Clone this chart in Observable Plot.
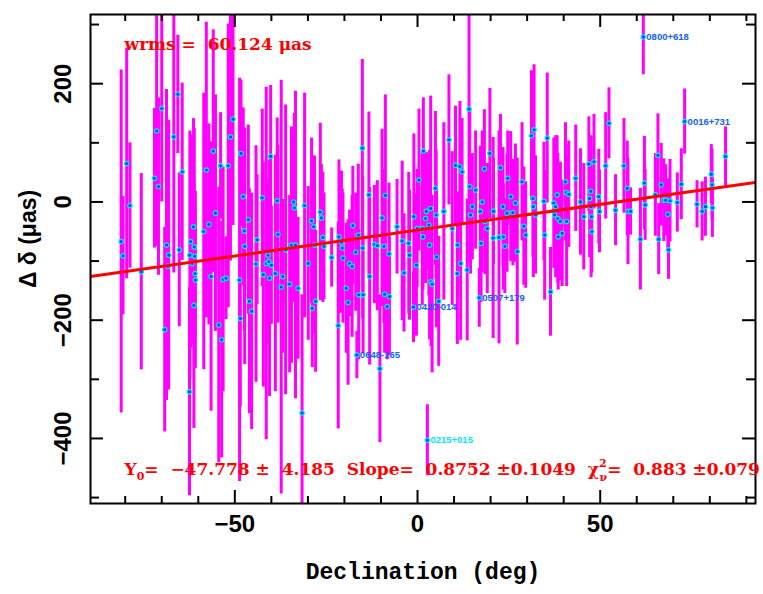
<!DOCTYPE html>
<html><head><meta charset="utf-8">
<script src="https://cdn.jsdelivr.net/npm/d3@7"></script>
<script src="https://cdn.jsdelivr.net/npm/@observablehq/plot@0.6"></script>
<style>
html,body{margin:0;padding:0;background:#fff;overflow:hidden;}
svg text{white-space:pre;}
</style></head><body><div id="chart"></div>
<script>
// Declination (deg)
const dec = [
 -81.1,-80.6,-79.6,-78.7,-75.6,-72.0,-71.4,-70.9,-70.0,-69.2,-68.7,-68.1,-68.3,-66.7,-65.6,-65.2,-64.4,-62.4,-62.3,-62.1,-61.7,-61.3,-61.1,-61.0,-60.9,-60.8,-61.2,-58.5,-57.8,-57.1,-56.5,-55.9,-55.3,-54.4,-53.9,-53.6,-53.2,
 -52.4,-51.8,-51.2,-50.5,-48.7,-48.5,-48.3,-47.7,-47.4,-47.3,-46.3,-46.0,-45.4,-44.2,-43.9,-42.5,-42.2,-41.4,-40.9,-40.7,-40.5,-40.2,-40.0,-38.9,-38.4,-38.2,-37.3,-36.9,-36.1,-35.0,-34.5,-33.9,-33.7,-33.4,-32.7,-31.6,-30.9,-29.9,-29.0,-28.8,-28.4,-28.2,-27.9,-26.6,-26.3,-25.9,-25.6,-23.5,-21.7,-21.5,-20.8,-20.6,-20.4,-19.5,-19.0,-18.6,-17.9,-17.7,-16.9,-16.6,-16.2,-16.1,
 -15.1,-15.0,-14.9,-13.3,-13.1,-11.8,-11.0,-10.3,-9.7,-9.2,-9.0,-8.8,-8.3,-7.8,-7.7,-5.6,-4.2,-3.7,-2.4,-2.2,-1.1,-1.0,-0.3,-0.1,0.4,1.3,1.5,1.6,2.2,2.4,2.7,3.1,3.3,3.6,3.7,4.0,4.9,5.1,5.2,5.8,7.2,8.6,9.5,10.4,10.9,11.0,11.6,11.8,12.2,13.6,14.1,14.3,14.5,15.0,15.9,16.9,17.2,17.4,17.7,18.3,18.5,19.1,19.8,20.7,20.8,
 22.3,22.7,23.4,23.5,23.9,24.5,24.7,25.5,26.1,26.8,27.3,28.6,29.1,29.6,31.2,31.6,31.7,31.9,32.3,34.6,34.8,35.5,36.4,37.3,37.5,37.8,38.2,38.4,38.5,39.1,39.6,40.5,40.7,40.8,41.4,43.3,44.6,45.5,46.9,47.1,47.4,47.5,47.6,47.7,48.3,49.6,49.8,51.5,52.4,54.2,56.5,57.4,57.6,
 58.3,61.0,61.8,62.1,62.3,65.1,65.8,66.0,66.7,67.4,67.9,68.5,68.7,69.1,71.1,72.2,73.1,76.5,77.9,78.8,80.4,80.6,80.7,84.3
];
// Delta delta (micro-arcsec)
const dDelta = [
 -67,-91,65,-6,-118,40,120,26,158,-216,-73,-90,-109,110,182,-81,51,-321,-90,-67,-104,-42,-76,-92,-121,-132,-175,-50,54,-38,-126,86,-19,-208,61,-233,-131,
 -129,61,110,140,-132,-197,82,9,-49,-75,-30,-168,-185,-105,-64,7,-123,-104,-90,-101,-129,77,-107,-121,2,-55,-144,-126,-81,-139,-73,0,-10,-73,-146,-357,-6,-104,-32,-180,-42,-73,-168,-17,-27,-60,-75,-94,-209,-59,-68,-78,-95,-146,-170,-104,-109,-40,-85,-259,-56,-157,
 91,-78,-157,12,-126,-72,-74,-282,-27,-75,-156,11,-177,-88,-160,-42,-66,-120,-70,-90,-178,-25,-107,-45,37,-45,-59,86,-28,-16,-403,-39,-73,-11,-135,-139,23,-22,-93,-168,-16,105,-45,62,-121,-73,60,-104,51,-115,157,26,-22,-8,20,-162,-16,-70,0,56,-33,-45,82,-61,-16,
 -60,58,-8,-59,-75,-19,40,9,-18,-2,-84,34,-41,-56,112,6,-8,122,-22,1,-56,108,-152,-2,-22,-8,12,-28,-59,-33,-53,34,16,-33,13,40,0,-25,64,6,18,-8,-25,-50,68,9,-16,61,133,-14,61,23,-16,
 -16,-63,279,32,-5,12,79,-63,29,3,3,-21,-81,2,-1,30,136,-4,-16,-8,47,29,-10,77
];
// 1-sigma errors (micro-arcsec)
const sigma = [
 290,100,195,106,166,118,195,150,158,173,263,228,80,230,100,130,150,176,210,180,138,183,200,90,110,150,208,234,250,170,228,205,200,233,90,200,190,
 70,240,210,180,341,150,124,150,170,200,160,190,200,200,110,150,190,298,120,140,200,120,100,200,140,150,350,130,245,150,200,120,160,260,120,200,190,130,140,100,120,150,120,150,90,110,90,50,175,130,120,100,110,110,140,90,120,100,100,40,120,110,
 150,120,100,140,150,100,110,125,150,130,100,170,90,120,100,80,135,100,120,110,60,140,120,100,120,130,90,90,110,100,60,120,160,190,110,150,130,110,120,110,150,110,130,100,120,90,110,130,90,120,180,130,100,90,100,50,110,100,120,100,90,110,110,170,90,
 180,90,100,90,80,100,80,110,90,100,158,100,100,90,110,100,120,110,100,100,110,110,75,110,90,120,100,110,90,100,90,100,80,110,90,90,90,90,80,100,90,120,80,70,80,80,70,90,60,60,80,80,90,
 40,86,64,79,60,70,70,60,70,70,60,60,50,70,50,60,55,40,50,50,50,60,50,50
];
// labelled outlier sources
const srcNames = ["0800+618","0016+731","0648-165","0420-014","0507+179","0215+015"];
const srcDec   = [61.8, 73.1, -16.6, -1.1, 16.9, 2.7];
const srcVal   = [279, 136, -259, -178, -162, -403];
const srcGroup = ["a","a","a","a","a","b"];

// fit statistics
const wrms = 60.124;
const fitY0 = -47.778, fitY0Err = 4.185;
const fitSlope = 0.8752, fitSlopeErr = 0.1049;
const chi2 = 0.883, chi2Err = 0.079;

// axes
const xDomain = [-89.5, 92.5];
const yDomain = [-510, 317];
const xMajor = [-50, 0, 50];
const xMinor = [-80,-70,-60,-40,-30,-20,-10,10,20,30,40,60,70,80,90];
const yMajor = [-400, -200, 0, 200];
const yMinor = [-500, -300, -100, 100, 300];

const data = dec.map((d, i) => ({dec: d, val: dDelta[i], err: sigma[i]}));
const srcs = srcNames.map((n, i) => ({name: n, dec: srcDec[i], val: srcVal[i], g: srcGroup[i]}));

const W = 763, H = 594, mL = 90, mR = 8, mT = 14, mB = 91;
const fh = H - mT - mB, fw = W - mL - mR;
const fmt = d => d < 0 ? "\u2212" + Math.abs(d) : String(d);
const tickFont = {fontFamily: "Liberation Sans, Arial, sans-serif", fontWeight: "bold", fontSize: 24, fill: "black", textAnchor: "middle"};
const redFont = {fontFamily: "DejaVu Serif, serif", fontWeight: "bold", fontSize: 17, fill: "#ff0000", textAnchor: "start"};

const chart = Plot.plot({
  width: W, height: H,
  marginLeft: mL, marginRight: mR, marginTop: mT, marginBottom: mB,
  x: {domain: xDomain, axis: null},
  y: {domain: yDomain, axis: null},
  style: {background: "white", overflow: "hidden"},
  marks: [
    Plot.ruleX(data, {x: "dec", y1: d => d.val - d.err, y2: d => d.val + d.err, stroke: "#ff00ff", strokeWidth: 3, clip: true}),
    Plot.dot(data, {x: "dec", y: "val", r: 2.2, fill: "#1040ff", stroke: "#00eaff", strokeWidth: 1.2, clip: true}),
    Plot.line(xDomain, {x: d => d, y: d => fitY0 + fitSlope * d, stroke: "#ff0000", strokeWidth: 3, clip: true}),
    Plot.text(srcs, {x: "dec", y: "val", text: "name", dx: 3, textAnchor: "start",
      fill: d => d.g === "b" ? "#00e5ff" : "#1060ff", fontSize: 9.5, fontWeight: "bold",
      fontFamily: "Liberation Sans, Arial, sans-serif"}),
    // ticks (inward)
    Plot.ruleX(xMajor, {x: d => d, insetTop: fh - 13, stroke: "black", strokeWidth: 2}),
    Plot.ruleX(xMajor, {x: d => d, insetBottom: fh - 13, stroke: "black", strokeWidth: 2}),
    Plot.ruleX(xMinor, {x: d => d, insetTop: fh - 7, stroke: "black", strokeWidth: 2}),
    Plot.ruleX(xMinor, {x: d => d, insetBottom: fh - 7, stroke: "black", strokeWidth: 2}),
    Plot.ruleY(yMajor, {y: d => d, insetRight: fw - 13, stroke: "black", strokeWidth: 2}),
    Plot.ruleY(yMajor, {y: d => d, insetLeft: fw - 13, stroke: "black", strokeWidth: 2}),
    Plot.ruleY(yMinor, {y: d => d, insetRight: fw - 9, stroke: "black", strokeWidth: 2}),
    Plot.ruleY(yMinor, {y: d => d, insetLeft: fw - 9, stroke: "black", strokeWidth: 2}),
    Plot.frame({stroke: "black", strokeWidth: 2}),
    // tick labels
    Plot.text(xMajor, {x: d => d, text: fmt, frameAnchor: "bottom", dy: 28, ...tickFont}),
    Plot.text(yMajor, {y: d => d, text: fmt, frameAnchor: "left", dx: -27, rotate: -90, ...tickFont}),
    // axis titles
    Plot.text(["Declination (deg)"], {frameAnchor: "bottom", dy: 75, fontFamily: "Liberation Mono, DejaVu Sans Mono, monospace", fontWeight: "bold", fontSize: 23, fill: "black"}),
    Plot.text(["\u0394 \u03b4 (\u03bcas)"], {frameAnchor: "left", dx: -62, dy: -20, rotate: -90, textAnchor: "middle", fontFamily: "Liberation Sans, Arial, sans-serif", fontWeight: "bold", fontSize: 23, fill: "black"}),
    // red annotations
    Plot.text([`wrms =  ${wrms.toFixed(3)} \u03bcas`], {frameAnchor: "top-left", dx: 34, dy: 23, ...redFont}),
    Plot.text(["STATS"], {frameAnchor: "bottom-left", dx: 34, dy: -29, ...redFont})
  ]
});

document.getElementById("chart").appendChild(chart);

const m = v => v < 0 ? "\u2212" + Math.abs(v).toFixed(3) : v.toFixed(3);
d3.select(chart).selectAll("text").filter(function() { return this.textContent === "STATS"; }).each(function() {
  const t = d3.select(this);
  t.text(null);
  t.append("tspan").text("Y");
  t.append("tspan").attr("dy", 5).attr("font-size", 11).text("0");
  t.append("tspan").attr("dy", -5).text(`=  ${m(fitY0)} \u00b1  ${fitY0Err.toFixed(3)}  Slope=  ${fitSlope.toFixed(4)} \u00b1${fitSlopeErr.toFixed(4)}  \u03c7`);
  t.append("tspan").attr("dy", -8).attr("font-size", 11).text("2");
  t.append("tspan").attr("dy", 14).attr("dx", -7).attr("font-size", 11).text("\u03bd");
  t.append("tspan").attr("dy", -6).text(`=  ${chi2.toFixed(3)} \u00b1${chi2Err.toFixed(3)}`);
});
</script>
</body></html>
